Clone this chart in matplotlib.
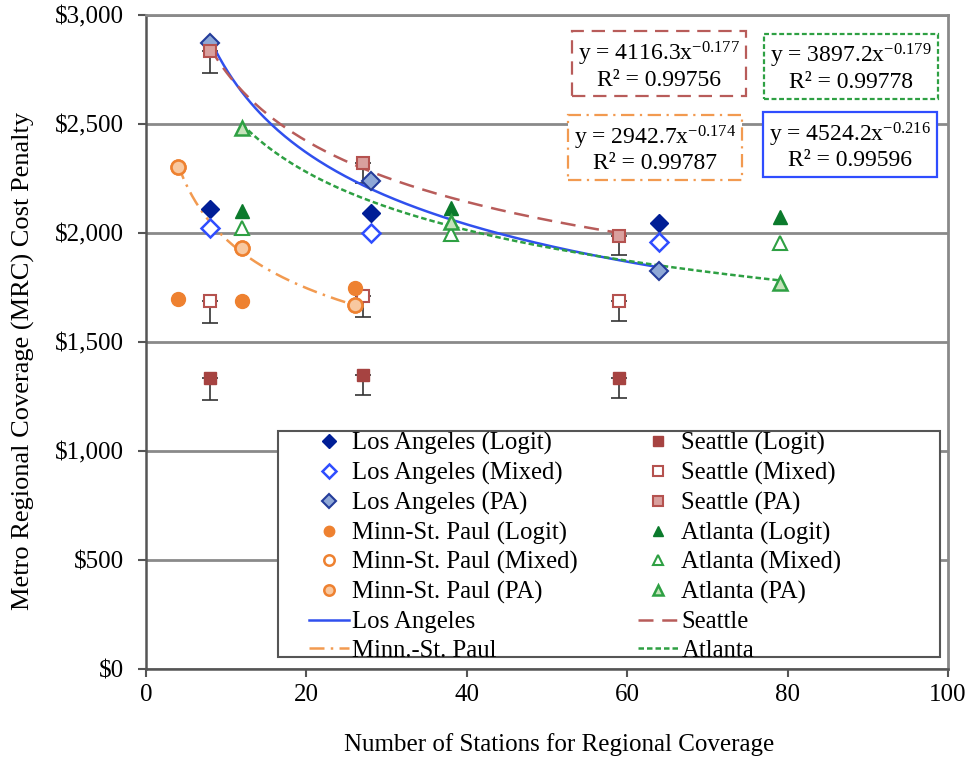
import matplotlib
matplotlib.use("Agg")
import matplotlib.pyplot as plt
import numpy as np
from matplotlib.patches import Rectangle
from matplotlib.ticker import FuncFormatter

plt.rcParams["font.family"] = ["Liberation Serif", "DejaVu Serif"]
plt.rcParams["mathtext.fontset"] = "custom"
plt.rcParams["mathtext.rm"] = "Liberation Serif"
plt.rcParams["mathtext.it"] = "Liberation Serif:italic"

# Los Angeles
la_x = [8, 28, 64]
la_logit = [2109, 2093, 2047]
la_mixed = [2022, 1999, 1960]
la_pa = [2870, 2240, 1826]

# Seattle (error bars on the low side only)
sea_x = [8, 27, 59]
sea_logit = [1335, 1349, 1336]
sea_mixed = [1689, 1711, 1688]
sea_pa = [2836, 2320, 1988]
sea_logit_err = [101, 92, 94]
sea_mixed_err = [100, 98, 92]
sea_pa_err = [101, 92, 89]

# Minneapolis-St. Paul
msp_x = [4, 12, 26]
msp_logit = [1696, 1690, 1746]
msp_mixed = [2304, 1930, 1670]
msp_pa = [2304, 1930, 1670]

# Atlanta
atl_x = [12, 38, 79]
atl_logit = [2101, 2115, 2072]
atl_mixed = [2022, 1995, 1956]
atl_pa = [2480, 2050, 1772]

# power-law trendlines fitted to the PA series: (a, b, R^2)
fits = {
    "la": (4524.2, -0.216, 0.99596),
    "sea": (4116.3, -0.177, 0.99756),
    "msp": (2942.7, -0.174, 0.99787),
    "atl": (3897.2, -0.179, 0.99778),
}

LA_DARK, LA_BLUE, LA_LIGHT = "#001e96", "#2f4dff", "#8fa8d6"
SEA_DARK, SEA_EDGE, SEA_LIGHT = "#a64341", "#b5524f", "#d9a09e"
MSP_DARK, MSP_LIGHT = "#ee8130", "#f8c8a0"
ATL_DARK, ATL_EDGE, ATL_LIGHT = "#0b7a2c", "#2ea043", "#c6e3bb"
LA_LINE, SEA_LINE, MSP_LINE, ATL_LINE = "#3050ee", "#b85c5a", "#f29a50", "#2ea043"
SEA_DASH = (0, (6, 3.5))
MSP_DASH = (0, (6, 2.5, 1, 2.5))
ATL_DASH = (0, (2.2, 1.2))

FS = 18

fig = plt.figure(figsize=(9.7, 7.61), dpi=100)
ax = fig.add_axes([0.1505, 0.1209, 0.8268, 0.8594])

# error bars go underneath the markers
for xs, ys, err in [(sea_x, sea_logit, sea_logit_err),
                    (sea_x, sea_mixed, sea_mixed_err),
                    (sea_x, sea_pa, sea_pa_err)]:
    ax.errorbar(xs, ys, yerr=[err, [0] * len(err)], fmt="none",
                ecolor="#333333", elinewidth=1.2, capsize=6, capthick=1.2, zorder=2)

h = {}
h["la_l"], = ax.plot(la_x, la_logit, "D", ms=9, color=LA_DARK, mec=LA_DARK, ls="none", zorder=4)
h["la_m"], = ax.plot(la_x, la_mixed, "D", ms=9, mfc="white", mec=LA_BLUE, mew=1.8, ls="none", zorder=4)
h["la_p"], = ax.plot(la_x, la_pa, "D", ms=9, mfc=LA_LIGHT, mec="#243c9a", mew=1.5, ls="none", zorder=4)

h["sea_l"], = ax.plot(sea_x, sea_logit, "s", ms=9, color=SEA_DARK, mec=SEA_DARK, ls="none", zorder=4)
h["sea_m"], = ax.plot(sea_x, sea_mixed, "s", ms=9, mfc="white", mec=SEA_EDGE, mew=1.5, ls="none", zorder=4)
h["sea_p"], = ax.plot(sea_x, sea_pa, "s", ms=9, mfc=SEA_LIGHT, mec=SEA_EDGE, mew=1.5, ls="none", zorder=4)

h["msp_l"], = ax.plot(msp_x, msp_logit, "o", ms=10, color=MSP_DARK, mec=MSP_DARK, ls="none", zorder=4)
h["msp_m"], = ax.plot(msp_x, msp_mixed, "o", ms=10, mfc="white", mec=MSP_DARK, mew=1.8, ls="none", zorder=4)
h["msp_p"], = ax.plot(msp_x, msp_pa, "o", ms=10, mfc=MSP_LIGHT, mec=MSP_DARK, mew=1.8, ls="none", zorder=4)

h["atl_l"], = ax.plot(atl_x, atl_logit, "^", ms=9.5, color=ATL_DARK, mec=ATL_DARK, ls="none", zorder=4)
h["atl_m"], = ax.plot(atl_x, atl_mixed, "^", ms=9.5, mfc="white", mec=ATL_EDGE, mew=1.5, ls="none", zorder=4)
h["atl_p"], = ax.plot(atl_x, atl_pa, "^", ms=9.5, mfc=ATL_LIGHT, mec=ATL_EDGE, mew=1.8, ls="none", zorder=4)


def trend(key, xs, color, ls):
    a, b, _ = fits[key]
    xx = np.linspace(min(xs), max(xs), 200)
    line, = ax.plot(xx, a * xx ** b, color=color, ls=ls, lw=1.8, zorder=3)
    return line


h["la_t"] = trend("la", la_x, LA_LINE, "-")
h["sea_t"] = trend("sea", sea_x, SEA_LINE, SEA_DASH)
h["msp_t"] = trend("msp", msp_x, MSP_LINE, MSP_DASH)
h["atl_t"] = trend("atl", atl_x, ATL_LINE, ATL_DASH)


# equation boxes
def eq_box(key, x, y, color, ls):
    a, b, r2 = fits[key]
    txt = f"y = {a:.1f}x$^{{{b:.3f}}}$\nR² = {r2:.5f}"
    ax.text(x, y, txt, ha="center", va="center", fontsize=17, linespacing=1.1,
            zorder=6,
            bbox=dict(boxstyle="square,pad=0.25", fc="white", ec=color, ls=ls, lw=1.6))


eq_box("sea", 64.0, 2770, SEA_LINE, SEA_DASH)
eq_box("atl", 87.9, 2760, ATL_LINE, ATL_DASH)
eq_box("msp", 63.5, 2385, MSP_LINE, MSP_DASH)
eq_box("la", 87.8, 2400, LA_BLUE, "-")

ax.set_xlim(0, 100)
ax.set_ylim(0, 3000)
ax.set_xticks(np.arange(0, 101, 20))
ax.set_yticks(np.arange(0, 3001, 500))
ax.yaxis.set_major_formatter(FuncFormatter(lambda v, p: f"${v:,.0f}"))
ax.grid(axis="y", color="#8a8a8a", lw=2, zorder=0)
ax.set_axisbelow(True)
for s in ["top", "right"]:
    ax.spines[s].set_color("#8a8a8a")
    ax.spines[s].set_linewidth(2)
for s in ["left", "bottom"]:
    ax.spines[s].set_color("#555555")
    ax.spines[s].set_linewidth(1.8)
ax.tick_params(labelsize=FS, length=6, width=1.5, color="#555555", pad=5)
ax.tick_params(axis="y", pad=10)
ax.set_xlabel("Number of Stations for Regional Coverage", fontsize=FS)
ax.set_ylabel("Metro Regional Coverage (MRC) Cost Penalty", fontsize=19)
ax.xaxis.set_label_coords(0.515, -0.098)
ax.yaxis.set_label_coords(-0.138, 0.471)

# legend frame drawn separately so it can be wider than its contents
ax.add_patch(Rectangle((0.1646, 0.0183), 0.8254, 0.3457, transform=ax.transAxes,
                       fc="white", ec="#555555", lw=1.5, zorder=7))

handles = [h["la_l"], h["la_m"], h["la_p"], h["msp_l"], h["msp_m"], h["msp_p"], h["la_t"], h["msp_t"],
           h["sea_l"], h["sea_m"], h["sea_p"], h["atl_l"], h["atl_m"], h["atl_p"], h["sea_t"], h["atl_t"]]
labels = ["Los Angeles (Logit)", "Los Angeles (Mixed)", "Los Angeles (PA)",
          "Minn-St. Paul (Logit)", "Minn-St. Paul (Mixed)", "Minn-St. Paul (PA)",
          "Los Angeles", "Minn.-St. Paul",
          "Seattle (Logit)", "Seattle (Mixed)", "Seattle (PA)",
          "Atlanta (Logit)", "Atlanta (Mixed)", "Atlanta (PA)",
          "Seattle", "Atlanta"]
leg = ax.legend(handles, labels, ncol=2, loc="upper left",
                bbox_to_anchor=(0.2032, 0.362),
                fontsize=17.8, markerscale=0.75, handlelength=1.6, handletextpad=0.15,
                labelspacing=0.27, borderpad=0, borderaxespad=0, columnspacing=2.43,
                frameon=False)
leg.set_zorder(8)

fig.savefig("out.png", dpi=100)
